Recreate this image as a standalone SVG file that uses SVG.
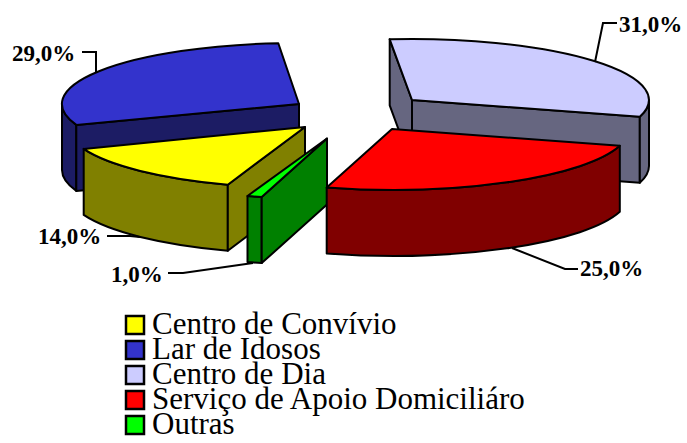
<svg xmlns="http://www.w3.org/2000/svg" width="687" height="443" viewBox="0 0 687 443">
<style>
path{stroke:#000;stroke-width:2;stroke-linejoin:round}
.lbl{font-family:"Liberation Serif","Times New Roman",serif;font-weight:bold;font-size:23px;fill:#000}
.leg{font-family:"Liberation Serif","Times New Roman",serif;font-size:31px;fill:#000}
.sw{stroke:#000;stroke-width:2.5}
.ld{fill:none;stroke:#000;stroke-width:2}
</style>
<rect width="687" height="443" fill="#fff"/>
<g id="slice-lar-idosos">
<path d="M76.3,124.9 A237,61 0 0 1 62,104 L62,170 A237,61 0 0 0 76.3,190.9 Z" fill="#1C1C64"/>
<path d="M299,104 L76.3,124.9 L76.3,190.9 L299,170 Z" fill="#1C1C64"/>
<path d="M299,104 L76.3,124.9 A237,61 0 0 1 278.3,43.2 Z" fill="#3333CC"/>
</g>
<g id="slice-centro-dia">
<path d="M389.7,39.3 L412,100 L412,166 L389.7,105.3 Z" fill="#666680"/>
<path d="M412,100 L639.8,116.8 L639.8,182.8 L412,166 Z" fill="#666680"/>
<path d="M649,100 A237,61 0 0 1 639.8,116.8 L639.8,182.8 A237,61 0 0 0 649,166 Z" fill="#666680"/>
<path d="M412,100 L389.7,39.3 A237,61 0 0 1 639.8,116.8 Z" fill="#CCCCFF"/>
</g>
<g id="slice-centro-convivio">
<path d="M227.8,184.7 A237,61 0 0 1 83.7,148.9 L83.7,214.9 A237,61 0 0 0 227.8,250.7 Z" fill="#808000"/>
<path d="M305,127 L227.8,184.7 L227.8,250.7 L305,193 Z" fill="#808000"/>
<path d="M305,127 L227.8,184.7 A237,61 0 0 1 83.7,148.9 Z" fill="#FFFF00"/>
</g>
<g id="slice-outras">
<path d="M261.7,197.1 A237,61 0 0 1 247.5,196 L247.5,262 A237,61 0 0 0 261.7,263.1 Z" fill="#008000"/>
<path d="M327,138.5 L261.7,197.1 L261.7,263.1 L327,204.5 Z" fill="#008000"/>
<path d="M327,138.5 L261.7,197.1 A237,61 0 0 1 247.5,196 Z" fill="#00FF00"/>
</g>
<g id="slice-sad">
<path d="M619.8,145.8 A237,61 0 0 1 326.7,187.6 L326.7,253.6 A237,61 0 0 0 619.8,211.8 Z" fill="#800000"/>
<path d="M392,129 L619.8,145.8 A237,61 0 0 1 326.7,187.6 Z" fill="#FF0000"/>
</g>
<g id="connectors">
<polyline class="ld" points="82,52 96,52 96,72"/>
<polyline class="ld" points="617,23 603,23 595,62"/>
<polyline class="ld" points="107,236 130,236 140,237"/>
<polyline class="ld" points="168,273 183,273 253,263"/>
<polyline class="ld" points="578,269 565,269 512,248"/>
</g>
<g id="labels">
<text class="lbl" x="12" y="61">29,0%</text>
<text class="lbl" x="619" y="32">31,0%</text>
<text class="lbl" x="38" y="244">14,0%</text>
<text class="lbl" x="111" y="282">1,0%</text>
<text class="lbl" x="580" y="276">25,0%</text>
</g>
<g id="legend">
<rect class="sw" x="126" y="316" width="18" height="18" fill="#FFFF00"/>
<text class="leg" x="152" y="334">Centro de Convívio</text>
<rect class="sw" x="126" y="341" width="18" height="18" fill="#3333CC"/>
<text class="leg" x="152" y="359">Lar de Idosos</text>
<rect class="sw" x="126" y="366" width="18" height="18" fill="#CCCCFF"/>
<text class="leg" x="152" y="384">Centro de Dia</text>
<rect class="sw" x="126" y="391" width="18" height="18" fill="#FF0000"/>
<text class="leg" x="152" y="409">Serviço de Apoio Domiciliáro</text>
<rect class="sw" x="126" y="416" width="18" height="18" fill="#00FF00"/>
<text class="leg" x="152" y="434">Outras</text>
</g>
</svg>
